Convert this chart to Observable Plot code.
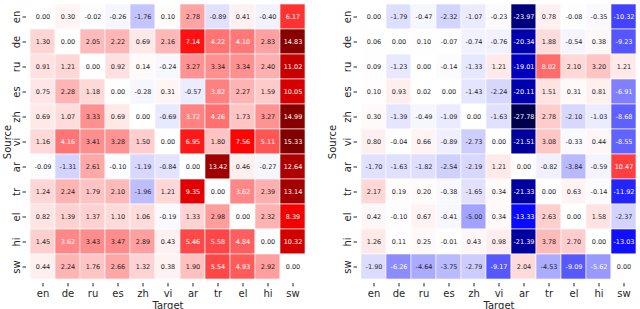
<!DOCTYPE html>
<html><head><meta charset="utf-8">
<script src="https://cdn.jsdelivr.net/npm/d3@7"></script>
<script src="https://cdn.jsdelivr.net/npm/@observablehq/plot@0.6"></script>
<style>
body{margin:0;background:#fff;}
#wrap{display:flex;width:640px;height:309px;overflow:hidden;}
#wrap svg{display:block;flex:none;}
</style></head><body><div id="wrap"></div>
<script>
const langs = ["en","de","ru","es","zh","vi","ar","tr","el","hi","sw"];
const leftValues = [
 [0.00,0.30,-0.02,-0.26,-1.76,0.10,2.78,-0.89,0.41,-0.40,6.17],
 [1.30,0.00,2.05,2.22,0.69,2.16,7.14,4.22,4.10,2.83,14.83],
 [0.91,1.21,0.00,0.92,0.14,-0.24,3.27,3.34,3.34,2.40,11.02],
 [0.75,2.28,1.18,0.00,-0.28,0.31,-0.57,3.82,2.27,1.59,10.05],
 [0.69,1.07,3.33,0.69,0.00,-0.69,3.72,4.26,1.73,3.27,14.99],
 [1.16,4.16,3.41,3.28,1.50,0.00,6.95,1.80,7.56,5.11,15.33],
 [-0.09,-1.31,2.61,-0.10,-1.19,-0.84,0.00,13.42,0.46,-0.27,12.64],
 [1.24,2.24,1.79,2.10,-1.96,1.21,9.35,0.00,3.62,2.39,13.14],
 [0.82,1.39,1.37,1.10,1.06,-0.19,1.33,2.98,0.00,2.32,8.39],
 [1.45,3.62,3.43,3.47,2.89,0.43,5.46,5.58,4.84,0.00,10.32],
 [0.44,2.24,1.76,2.66,1.32,0.38,1.90,5.54,4.93,2.92,0.00]
];
const rightValues = [
 [0.00,-1.79,-0.47,-2.32,-1.07,-0.23,-23.97,0.78,-0.08,-0.35,-10.32],
 [0.06,0.00,0.10,-0.07,-0.74,-0.76,-20.34,1.88,-0.54,0.38,-9.23],
 [0.09,-1.23,0.00,-0.14,-1.33,1.21,-19.01,8.02,2.10,3.20,1.21],
 [0.10,0.93,0.02,0.00,-1.43,-2.24,-20.11,1.51,0.31,0.81,-6.91],
 [0.30,-1.39,-0.49,-1.09,0.00,-1.63,-27.78,2.78,-2.10,-1.03,-8.68],
 [0.80,-0.04,0.66,-0.89,-2.73,0.00,-21.51,3.08,-0.33,0.44,-8.55],
 [-1.70,-1.63,-1.82,-2.54,-2.19,1.21,0.00,-0.82,-3.84,-0.59,10.47],
 [2.17,0.19,0.20,-0.38,-1.65,0.34,-21.33,0.00,0.63,-0.14,-11.92],
 [0.42,-0.10,0.67,-0.41,-5.00,0.34,-13.33,2.63,0.00,1.58,-2.37],
 [1.26,0.11,0.25,-0.01,0.43,0.98,-21.39,3.78,2.70,0.00,-13.03],
 [-1.90,-6.26,-4.64,-3.75,-2.79,-9.17,2.04,-4.53,-9.09,-5.62,0.00]
];
const seismic = ["#00004d","#0000ff","#ffffff","#ff0000","#800000"];

function lin(c){ c/=255; return c <= 0.03928 ? c/12.92 : Math.pow((c+0.055)/1.055, 2.4); }

function heat(values, marginLeft, marginRight, yLabelOffset) {
  const data = [];
  values.forEach((row,i)=>row.forEach((v,j)=>data.push({source: langs[i], target: langs[j], v})));
  const m = d3.max(data, d=>Math.abs(d.v));
  const domain = [-m, -m/2, 0, m/2, m];
  const cs = d3.scaleLinear().domain(domain).range(seismic).interpolate(d3.interpolateRgb);
  const lum = v => { const c = d3.rgb(cs(v)); return 0.2126*lin(c.r)+0.7152*lin(c.g)+0.0722*lin(c.b); };
  const dark = data.filter(d => lum(d.v) > 0.408);
  const light = data.filter(d => lum(d.v) <= 0.408);
  const txt = d => d.v.toFixed(2);
  return Plot.plot({
    width: 320, height: 309,
    marginTop: 0, marginBottom: 26, marginLeft, marginRight,
    style: {fontFamily: "DejaVu Sans, sans-serif", fontSize: "10px", color: "#262626", background: "white"},
    x: {domain: langs, padding: 0, label: "Target"},
    y: {domain: langs, padding: 0, label: "Source"},
    color: {type: "linear", domain, range: seismic, interpolate: "rgb"},
    marks: [
      Plot.cell(data, {x: "target", y: "source", fill: "v", stroke: "white", strokeWidth: 0.6}),
      Plot.text(dark, {x: "target", y: "source", text: txt, fill: "#262626", fontSize: 6.5}),
      Plot.text(light, {x: "target", y: "source", text: txt, fill: "white", fontSize: 6.5}),
      Plot.axisX({tickSize: 3.5, tickPadding: 2.5, labelAnchor: "center", labelArrow: "none", labelOffset: 25, fontSize: 10}),
      Plot.axisY({tickSize: 3.5, tickRotate: -90, tickPadding: 3, labelAnchor: "center", labelArrow: "none", labelOffset: yLabelOffset, fontSize: 10})
    ]
  });
}

const wrap = document.getElementById("wrap");
wrap.appendChild(heat(leftValues, 26, 11, 23));
wrap.appendChild(heat(rightValues, 37, 0, 29));
</script>
</body></html>
